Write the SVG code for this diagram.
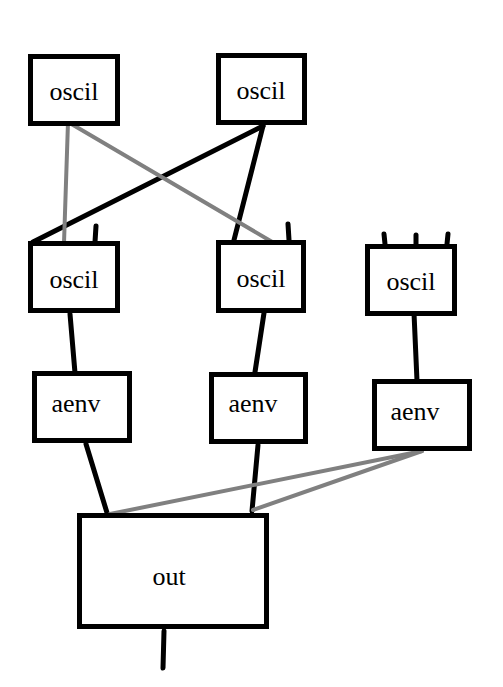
<svg xmlns="http://www.w3.org/2000/svg" width="503" height="687" viewBox="0 0 503 687">
<style>
.box{fill:#fff;stroke:#000;stroke-width:5}
.k{stroke:#000;stroke-width:5;stroke-linecap:round;fill:none}
.g{stroke:#808080;stroke-width:4;stroke-linecap:round;fill:none}
</style>
<rect width="503" height="687" fill="#fff"/>
<g id="connectors">
<line class="k" x1="70" y1="314" x2="75" y2="373"/>
<line class="k" x1="264" y1="313" x2="255" y2="372"/>
<line class="k" x1="414" y1="313" x2="417" y2="381"/>
<line class="k" x1="86" y1="444" x2="108" y2="516"/>
<line class="k" x1="258" y1="445" x2="252" y2="511"/>
<line class="k" x1="164" y1="631" x2="163" y2="668"/>
<line class="k" x1="263" y1="126" x2="33" y2="242"/>
<line class="k" x1="263" y1="126" x2="234" y2="240"/>
<line class="k" x1="96" y1="226" x2="95" y2="242"/>
<line class="k" x1="288" y1="224" x2="289" y2="240"/>
<line class="k" x1="384" y1="234" x2="385" y2="244"/>
<line class="k" x1="416" y1="235" x2="416" y2="244"/>
<line class="k" x1="448" y1="234" x2="447" y2="244"/>
<line class="g" x1="68" y1="122" x2="64" y2="243"/>
<line class="g" x1="68" y1="122" x2="274" y2="243"/>
<line class="g" x1="422" y1="451" x2="110" y2="514"/>
<line class="g" x1="422" y1="451" x2="253" y2="510"/>
</g>
<g font-family="Liberation Serif, DejaVu Serif, serif" font-size="26" fill="#000" text-anchor="middle">
<g id="oscil1"><rect class="box" x="30.5" y="56.5" width="87" height="67"/><text x="74" y="100">oscil</text></g>
<g id="oscil2"><rect class="box" x="218.5" y="55.5" width="86" height="67"/><text x="261" y="99">oscil</text></g>
<g id="oscil3"><rect class="box" x="30.5" y="243.5" width="87" height="67"/><text x="74" y="288">oscil</text></g>
<g id="oscil4"><rect class="box" x="218.5" y="242.5" width="85" height="68"/><text x="261" y="287">oscil</text></g>
<g id="oscil5"><rect class="box" x="367.5" y="246.5" width="87" height="67"/><text x="411" y="290">oscil</text></g>
<g id="aenv1"><rect class="box" x="34.5" y="373.5" width="95" height="67"/><text x="76" y="412">aenv</text></g>
<g id="aenv2"><rect class="box" x="211.5" y="374.5" width="94" height="67"/><text x="253" y="412">aenv</text></g>
<g id="aenv3"><rect class="box" x="374.5" y="381.5" width="95" height="67"/><text x="415" y="420">aenv</text></g>
<g id="out"><rect class="box" x="79.5" y="515.5" width="187" height="111"/><text x="169" y="585">out</text></g>
</g>
</svg>
